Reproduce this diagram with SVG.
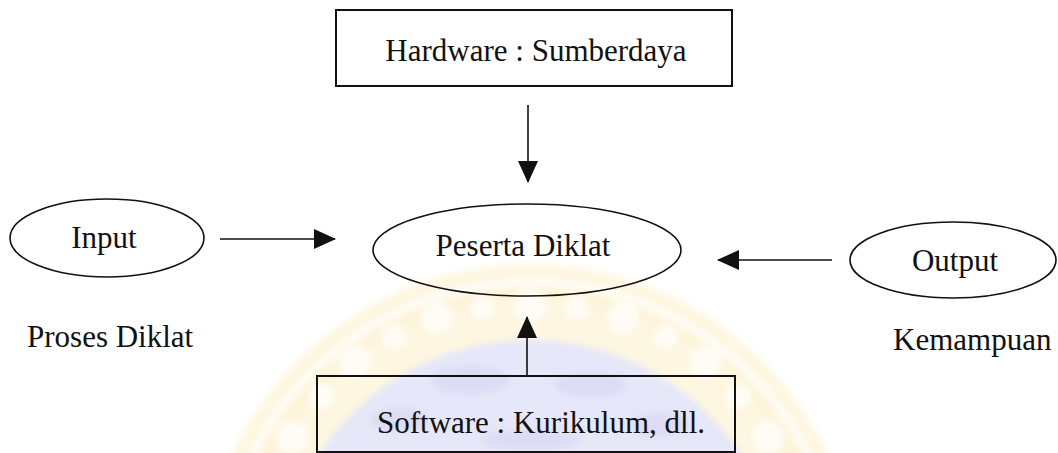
<svg xmlns="http://www.w3.org/2000/svg" width="1058" height="453" viewBox="0 0 1058 453">
  <style>
    .box { fill: none; stroke: #111; stroke-width: 2; }
    .oval { fill: none; stroke: #111; stroke-width: 1.6; }
    .lbl { font-family: "Liberation Serif", "Times New Roman", serif; font-size: 31px; fill: #111; }
    .mid { text-anchor: middle; }
    .edge { stroke: #111; stroke-width: 1.6; fill: none; marker-end: url(#head); }
  </style>
  <defs>
    <marker id="head" markerUnits="userSpaceOnUse" markerWidth="22" markerHeight="20" viewBox="0 0 22 20" refX="21" refY="10" orient="auto">
      <path d="M0,0 L22,10 L0,20 Z" fill="#111"/>
    </marker>
    <filter id="soft" x="-10%" y="-10%" width="120%" height="120%">
      <feGaussianBlur stdDeviation="3"/>
    </filter>
  </defs>
  <rect width="1058" height="453" fill="#fff"/>

  <!-- faint seal in the background -->
  <g id="seal" opacity="0.55" filter="url(#soft)">
    <circle cx="530" cy="592" r="328" fill="#fdf0c8"/>
    <circle cx="530" cy="592" r="310" fill="none" stroke="#fff" stroke-width="5"/>
    <circle cx="530" cy="592" r="297" fill="none" stroke="#fcebb8" stroke-width="9"/>
    <g fill="#fffaf0">
      <circle cx="292" cy="437" r="16"/>
      <circle cx="322" cy="396" r="13"/>
      <circle cx="355" cy="362" r="16"/>
      <circle cx="394" cy="337" r="12"/>
      <circle cx="437" cy="318" r="16"/>
      <circle cx="483" cy="308" r="12"/>
      <circle cx="530" cy="305" r="16"/>
      <circle cx="577" cy="308" r="12"/>
      <circle cx="623" cy="318" r="16"/>
      <circle cx="666" cy="337" r="12"/>
      <circle cx="705" cy="362" r="16"/>
      <circle cx="738" cy="396" r="13"/>
      <circle cx="768" cy="437" r="16"/>
    </g>
    <circle cx="530" cy="592" r="252" fill="#d2d4f4"/>
    <g fill="#bfc2ee">
      <ellipse cx="470" cy="380" rx="40" ry="14"/>
      <ellipse cx="590" cy="385" rx="36" ry="12"/>
      <ellipse cx="400" cy="420" rx="30" ry="12"/>
      <ellipse cx="660" cy="425" rx="30" ry="12"/>
      <ellipse cx="530" cy="440" rx="50" ry="10"/>
    </g>
  </g>

  <!-- connectors -->
  <g id="connectors">
    <line class="edge" x1="528" y1="105" x2="528" y2="182"/>
    <line class="edge" x1="220" y1="239" x2="335" y2="239"/>
    <line class="edge" x1="832" y1="260" x2="718" y2="260"/>
    <line class="edge" x1="527" y1="376" x2="527" y2="317"/>
  </g>

  <g id="hardware">
    <rect class="box" x="336" y="10" width="396" height="76"/>
    <text class="lbl mid" x="536" y="61">Hardware : Sumberdaya</text>
  </g>

  <g id="input">
    <ellipse class="oval" cx="107" cy="238" rx="97" ry="39"/>
    <text class="lbl mid" x="104" y="248">Input</text>
  </g>

  <g id="peserta">
    <ellipse class="oval" cx="527" cy="250" rx="154" ry="46"/>
    <text class="lbl mid" x="523" y="256">Peserta Diklat</text>
  </g>

  <g id="output">
    <ellipse class="oval" cx="953" cy="260" rx="103" ry="38"/>
    <text class="lbl mid" x="955" y="271">Output</text>
  </g>

  <g id="software">
    <rect class="box" x="317" y="376" width="418" height="76"/>
    <text class="lbl mid" x="541" y="433">Software : Kurikulum, dll.</text>
  </g>

  <g id="proses">
    <text class="lbl" x="27" y="347">Proses Diklat</text>
  </g>

  <g id="kemampuan">
    <text class="lbl" x="893" y="350">Kemampuan</text>
  </g>
</svg>
